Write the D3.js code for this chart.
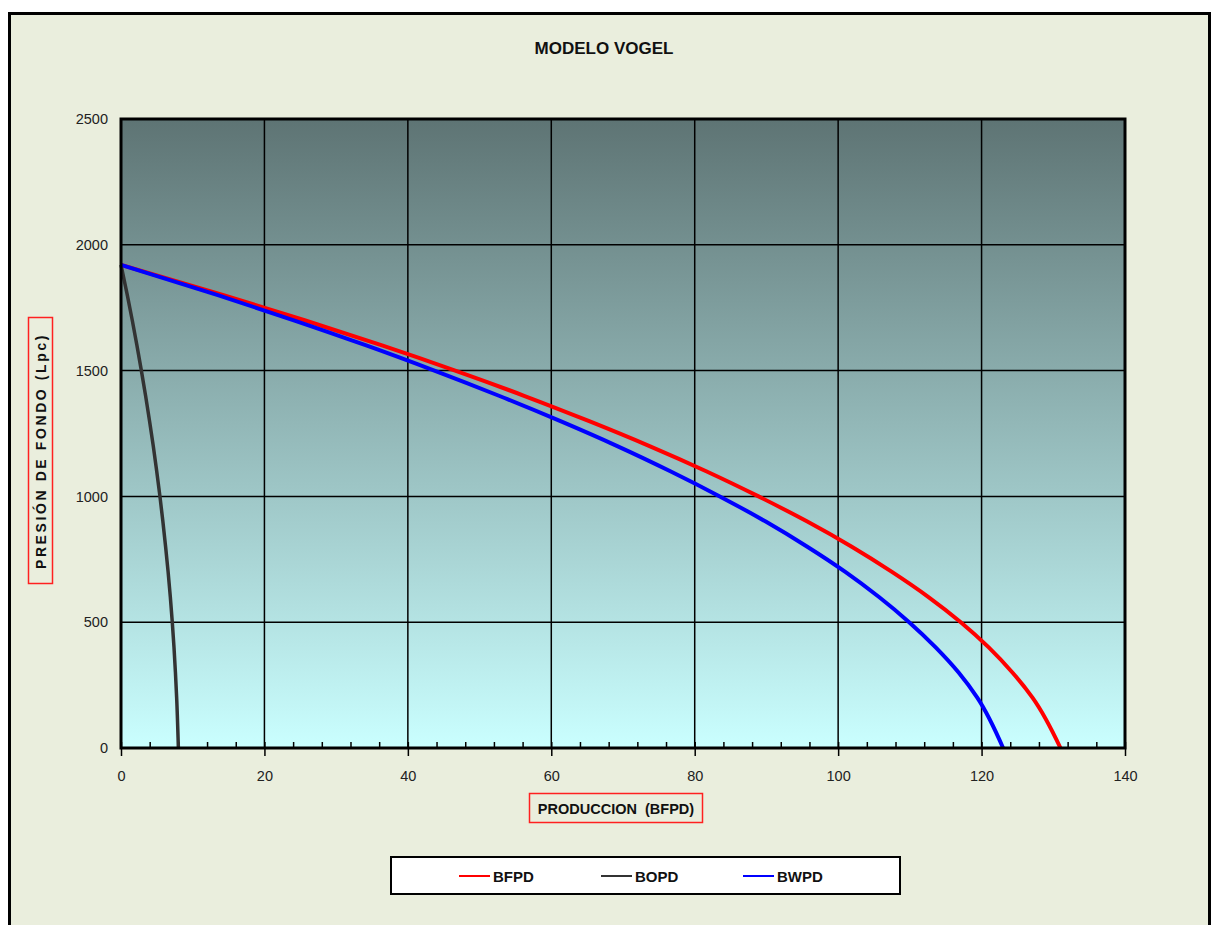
<!DOCTYPE html>
<html>
  <head>
    <meta charset="utf-8">
    <title>Modelo Vogel</title>
    <style>
      body { margin: 0; background: #fff; }
      svg { display: block; font-family: "Liberation Sans", Arial, sans-serif; }
    </style>
  </head>
  <body>
    <div id="chart"></div>
    <script src="https://cdn.jsdelivr.net/npm/d3@7/dist/d3.min.js"></script>
    <script>
      // presion de fondo (Lpc) for each row of the table
      var pressures = [1920, 1800, 1700, 1600, 1500, 1400, 1300, 1200, 1100, 1000,
                       900, 800, 700, 600, 500, 400, 300, 200, 0];
      var bfpd = [0, 14.3, 25.6, 36.4, 46.6, 56.2, 65.2, 73.7, 81.6, 88.9,
                  95.7, 101.9, 107.5, 112.6, 117.1, 121.0, 124.3, 127.1, 131];
      var bopd = [0, 0.88, 1.57, 2.22, 2.84, 3.43, 3.98, 4.50, 4.98, 5.43,
                  5.84, 6.22, 6.57, 6.88, 7.15, 7.39, 7.59, 7.76, 8.0];
      var bwpd = [0, 13.5, 24.1, 34.2, 43.7, 52.7, 61.2, 69.2, 76.6, 83.5,
                  89.9, 95.7, 101.0, 105.7, 109.9, 113.6, 116.8, 119.4, 123];
      var seriesNames = ['BFPD', 'BOPD', 'BWPD'];
      var xTicks = [0, 20, 40, 60, 80, 100, 120, 140];
      var yTicks = [0, 500, 1000, 1500, 2000, 2500];

      var W = 1212, H = 925;
      var plot = { left: 121, top: 119, right: 1125, bottom: 748 };

      var svg = d3.select('#chart').append('svg')
        .attr('width', W).attr('height', H);

      var defs = svg.append('defs');
      var grad = defs.append('linearGradient')
        .attr('id', 'bg').attr('x1', 0).attr('y1', 0).attr('x2', 0).attr('y2', 1);
      grad.append('stop').attr('offset', '0%').attr('stop-color', '#5e7474');
      grad.append('stop').attr('offset', '100%').attr('stop-color', '#caffff');

      // outer chart area
      svg.append('rect')
        .attr('x', 9.5).attr('y', 13.5)
        .attr('width', 1200).attr('height', 940)
        .attr('fill', '#eaeedd')
        .attr('stroke', '#000').attr('stroke-width', 3);

      svg.append('text')
        .attr('x', 604).attr('y', 54)
        .attr('text-anchor', 'middle')
        .attr('font-size', 17).attr('font-weight', 'bold')
        .attr('fill', '#111')
        .text('MODELO VOGEL');

      var x = d3.scaleLinear().domain([0, 140]).range([plot.left, plot.right]);
      var y = d3.scaleLinear().domain([0, 2500]).range([plot.bottom, plot.top]);

      svg.append('rect')
        .attr('x', plot.left).attr('y', plot.top)
        .attr('width', plot.right - plot.left).attr('height', plot.bottom - plot.top)
        .attr('fill', 'url(#bg)');

      // grid
      var grid = svg.append('g').attr('stroke', '#000').attr('stroke-width', 1.5);
      grid.selectAll('.vx').data(xTicks.slice(1, -1)).enter().append('line')
        .attr('x1', function(d) { return x(d); }).attr('x2', function(d) { return x(d); })
        .attr('y1', plot.top).attr('y2', plot.bottom);
      grid.selectAll('.hy').data(yTicks.slice(1, -1)).enter().append('line')
        .attr('x1', plot.left).attr('x2', plot.right)
        .attr('y1', function(d) { return y(d); }).attr('y2', function(d) { return y(d); });

      // minor ticks pointing into the plot
      var minor = d3.range(0, 141, 4);
      svg.append('g')
        .attr('transform', 'translate(0,' + plot.bottom + ')')
        .call(d3.axisTop(x).tickValues(minor).tickSize(6).tickFormat(''))
        .call(function(g) {
          g.select('.domain').remove();
          g.selectAll('line').attr('stroke', '#000').attr('stroke-width', 1.5);
        });

      // x axis
      svg.append('g')
        .attr('transform', 'translate(0,' + plot.bottom + ')')
        .call(d3.axisBottom(x).tickValues(xTicks).tickSize(8).tickPadding(15)
          .tickFormat(d3.format('d')))
        .call(function(g) {
          g.select('.domain').remove();
          g.selectAll('line').attr('stroke', '#000').attr('stroke-width', 1.5);
          g.selectAll('text').attr('font-size', 14.5).attr('fill', '#222')
            .attr('font-family', '"Liberation Sans", Arial, sans-serif');
        });

      // y axis
      svg.append('g')
        .attr('transform', 'translate(' + plot.left + ',0)')
        .call(d3.axisLeft(y).tickValues(yTicks).tickSize(0).tickPadding(13)
          .tickFormat(d3.format('d')))
        .call(function(g) {
          g.select('.domain').remove();
          g.selectAll('text').attr('font-size', 14.5).attr('fill', '#222')
            .attr('font-family', '"Liberation Sans", Arial, sans-serif');
        });

      // curves
      var colors = { BFPD: '#ff0000', BOPD: '#333333', BWPD: '#0000ff' };
      var widths = { BFPD: 4, BOPD: 3.5, BWPD: 4 };
      var seriesData = { BFPD: bfpd, BOPD: bopd, BWPD: bwpd };
      var line = d3.line()
        .x(function(d) { return x(d[0]); })
        .y(function(d) { return y(d[1]); })
        .curve(d3.curveMonotoneY);
      ['BOPD', 'BFPD', 'BWPD'].forEach(function(name) {
        var pts = seriesData[name].map(function(q, i) { return [q, pressures[i]]; });
        svg.append('path')
          .datum(pts)
          .attr('d', line)
          .attr('fill', 'none')
          .attr('stroke', colors[name])
          .attr('stroke-width', widths[name])
          .attr('stroke-linejoin', 'round');
      });

      // plot border
      svg.append('rect')
        .attr('x', plot.left).attr('y', plot.top)
        .attr('width', plot.right - plot.left).attr('height', plot.bottom - plot.top)
        .attr('fill', 'none').attr('stroke', '#000').attr('stroke-width', 3);

      // axis titles with red boxes
      var xt = svg.append('g');
      xt.append('rect')
        .attr('x', 529.5).attr('y', 793.5).attr('width', 173).attr('height', 29)
        .attr('fill', 'none').attr('stroke', '#ff2020').attr('stroke-width', 1.5);
      xt.append('text')
        .attr('x', 616).attr('y', 814)
        .attr('text-anchor', 'middle')
        .attr('font-size', 14.5).attr('font-weight', 'bold').attr('fill', '#111')
        .attr('xml:space', 'preserve')
        .text('PRODUCCION  (BFPD)');

      var yt = svg.append('g');
      yt.append('rect')
        .attr('x', 28.5).attr('y', 317.5).attr('width', 24).attr('height', 266)
        .attr('fill', 'none').attr('stroke', '#ff2020').attr('stroke-width', 1.5);
      yt.append('text')
        .attr('transform', 'translate(45.5,451) rotate(-90)')
        .attr('text-anchor', 'middle')
        .attr('font-size', 14).attr('font-weight', 'bold').attr('fill', '#111')
        .attr('letter-spacing', 2.6)
        .attr('xml:space', 'preserve')
        .text('PRESIÓN DE FONDO (Lpc)');

      // legend
      var lg = svg.append('g');
      lg.append('rect')
        .attr('x', 391).attr('y', 857).attr('width', 509).attr('height', 37)
        .attr('fill', '#fff').attr('stroke', '#000').attr('stroke-width', 2);
      var lx = { BFPD: 459, BOPD: 601, BWPD: 743 };
      seriesNames.forEach(function(name) {
        lg.append('line')
          .attr('x1', lx[name]).attr('x2', lx[name] + 31)
          .attr('y1', 876).attr('y2', 876)
          .attr('stroke', colors[name]).attr('stroke-width', 2);
        lg.append('text')
          .attr('x', lx[name] + 34).attr('y', 881.5)
          .attr('font-size', 15).attr('font-weight', 'bold').attr('fill', '#111')
          .text(name);
      });
    </script>
  </body>
</html>
